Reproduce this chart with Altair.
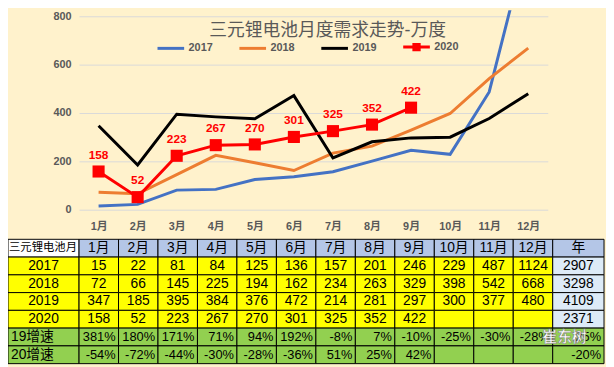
import altair as alt
import pandas as pd

# ---------------- data ----------------
months = ["1月", "2月", "3月", "4月", "5月", "6月", "7月", "8月", "9月", "10月", "11月", "12月"]
years = ["2017", "2018", "2019", "2020"]
v2017 = [15, 22, 81, 84, 125, 136, 157, 201, 246, 229, 487, 1124]
v2018 = [72, 66, 145, 225, 194, 162, 234, 263, 329, 398, 542, 668]
v2019 = [347, 185, 395, 384, 376, 472, 214, 281, 297, 300, 377, 480]
v2020 = [158, 52, 223, 267, 270, 301, 325, 352, 422]
year_totals = [2907, 3298, 4109, 2371]
growth_labels = ["19增速", "20增速"]
g19 = ["381%", "180%", "171%", "71%", "94%", "192%", "-8%", "7%", "-10%", "-25%", "-30%", "-28%", "25%"]
g20 = ["-54%", "-72%", "-44%", "-30%", "-28%", "-36%", "51%", "25%", "42%", "", "", "", "-20%"]
y_ticks = [0, 200, 400, 600, 800]
title_text = "三元锂电池月度需求走势-万度"
table_corner = "三元锂电池月"
year_header = "年"
watermark = "崔东树"

# ---------------- styles ----------------
FONT = "Liberation Sans, Noto Sans CJK SC"
GRAY = "#595959"
W, H = 606, 359
series_colors = ["#4472C4", "#ED7D31", "#000000", "#FF0000"]

# ---------------- line chart ----------------
series = dict(zip(years, [v2017, v2018, v2019, v2020]))
lines_df = pd.DataFrame(
    [{"month": months[i], "year": y, "value": v} for y, vals in series.items() for i, v in enumerate(vals)]
)

color_scale = alt.Scale(domain=years, range=series_colors)
x_scale = alt.Scale(domain=months, range=[72, 547])
y_scale = alt.Scale(domain=[0, 800], range=[202, 6], nice=False, zero=False)

x_axis = alt.Axis(domain=False, ticks=False, grid=False, offset=-157, labelPadding=11, labelAngle=0,
                  labelFont=FONT, labelFontSize=11, labelFontWeight="bold", labelColor=GRAY, title=None)
y_axis = alt.Axis(values=y_ticks, grid=True, gridColor="#D9D9D9", gridWidth=1, domain=False, ticks=False,
                  labelPadding=8, offset=-72, labelFont=FONT, labelFontSize=11, labelFontWeight="bold",
                  labelColor=GRAY, title=None)

xe = alt.X("month:N", sort=months, scale=x_scale, axis=x_axis)
ye = alt.Y("value:Q", scale=y_scale, axis=y_axis)

base = alt.Chart(lines_df)
line = base.mark_line(strokeWidth=3, clip=True).encode(
    x=xe, y=ye, color=alt.Color("year:N", scale=color_scale, legend=None)
)
sq = base.transform_filter("datum.year == '2020'").mark_point(
    shape="square", filled=True, size=150, opacity=1, color="#FF0000"
).encode(x=xe, y=ye)
lbl = base.transform_filter("datum.year == '2020'").mark_text(
    dy=-17, font=FONT, fontSize=12, fontWeight="bold", color="#FF0000"
).encode(x=xe, y=ye, text="value:Q")

LINE = "M-1,0H1"
LINE_SQ = "M-1,0H1M-0.2,-0.2H0.2V0.2H-0.2ZM-0.2,0H0.2"
leg_props = alt.Legend(title=None, orient="none", legendX=150, legendY=22, direction="horizontal",
                       symbolSize=729, symbolStrokeWidth=3, labelFont=FONT, labelFontSize=11,
                       labelFontWeight="bold", labelColor=GRAY, labelOffset=3, columnPadding=20, padding=0)
leg = base.transform_filter("false").mark_point(filled=False, strokeWidth=3, size=729, opacity=1).encode(
    x=xe, y=ye,
    color=alt.Color("year:N", scale=color_scale, legend=leg_props),
    shape=alt.Shape("year:N", scale=alt.Scale(domain=years, range=[LINE, LINE, LINE, LINE_SQ]), legend=leg_props),
)
lines_layer = alt.layer(line, sq, lbl, leg).resolve_legend(color="independent", shape="independent")

# ---------------- table ----------------
def col_span(c):
    if c == 0:
        return (-1.8, 0.0)
    if c <= 12:
        return (c - 1.0, float(c))
    return (12.0, 13.3)

table_rows = []
table_rows.append(([table_corner] + months + [year_header], ["corner"] + ["head"] * 13, "header"))
for y, tot in zip(years, year_totals):
    vals = [str(v) for v in series[y]] + [""] * (12 - len(series[y]))
    table_rows.append(([y] + vals + [str(tot)], ["data"] * 13 + ["total"], "data"))
for lab, g in zip(growth_labels, [g19, g20]):
    table_rows.append(([lab] + g, ["growth"] * 14, "growth"))

cells = []
for r, (texts, kinds, rtype) in enumerate(table_rows):
    for c, (t, k) in enumerate(zip(texts, kinds)):
        x0, x1 = col_span(c)
        if c == 0 and rtype == "header":
            al, tx = "corner", x0
        elif c == 0 and rtype == "growth":
            al, tx = "left", x0
        elif rtype == "growth":
            al, tx = "right", x1
        else:
            al, tx = "center", (x0 + x1) / 2
        cells.append({"r": r, "c": c, "x0": x0, "x1": x1, "tx": tx, "text": t, "kind": k, "al": al})
cells_df = pd.DataFrame(cells)

tx_scale = alt.Scale(domain=[-1.8, 13.3], range=[0, 604], nice=False, zero=False)
ty_scale = alt.Scale(domain=list(range(7)), range=[232, 358], paddingInner=0, paddingOuter=0)
fill_scale = alt.Scale(domain=["corner", "head", "data", "total", "growth"],
                       range=["#FFFFFF", "#B4C6E7", "#FFFF00", "#DDEBF7", "#92D050"])

tb = alt.Chart(cells_df)

def rect_layer(filt):
    return tb.transform_filter(filt).mark_rect(stroke="#000000", strokeWidth=1).encode(
        x=alt.X("x0:Q", scale=tx_scale, axis=None), x2="x1:Q",
        y=alt.Y("r:O", scale=ty_scale, axis=None),
        fill=alt.Fill("kind:N", scale=fill_scale, legend=None),
    )

def text_layer(filt, align, dx, size=14):
    return tb.transform_filter(filt).mark_text(align=align, dx=dx, font=FONT, fontSize=size, color="#000000").encode(
        x=alt.X("tx:Q", scale=tx_scale, axis=None),
        y=alt.Y("r:O", scale=ty_scale, axis=None),
        text="text:N",
    )

wm_df = pd.DataFrame({"tx": [12.3], "r": [5], "text": [watermark]})
wm = alt.Chart(wm_df).mark_text(font=FONT, fontSize=15, fontWeight="bold", color="#FFFFFF",
                                stroke="#7F7F7F", strokeWidth=0.6).encode(
    x=alt.X("tx:Q", scale=tx_scale, axis=None),
    y=alt.Y("r:O", scale=ty_scale, axis=None),
    text="text:N",
)

table_layer = alt.layer(
    rect_layer("datum.c == 0"),
    text_layer("datum.al == 'corner'", "left", 1, 11.5),
    text_layer("datum.c == 0 && datum.al == 'left'", "left", 3),
    text_layer("datum.c == 0 && datum.al == 'center'", "center", 0),
    rect_layer("datum.c > 0"),
    text_layer("datum.c > 0 && datum.al == 'center'", "center", 0),
    text_layer("datum.c > 0 && datum.al == 'right'", "right", -3, 13),
    wm,
)

chart = alt.layer(lines_layer, table_layer).resolve_scale(
    x="independent", y="independent"
).properties(
    width=W, height=H, padding=0,
    autosize=alt.AutoSizeParams(type="none"),
    background="#FFF2CC",
    title=alt.Title(title_text, anchor="start", frame="group", offset=0, dx=204, dy=30,
                    fontSize=18, fontWeight="normal", color=GRAY, font=FONT),
).configure_view(stroke="transparent")

chart.save("out.html", embed_options={"renderer": "svg", "actions": False})
